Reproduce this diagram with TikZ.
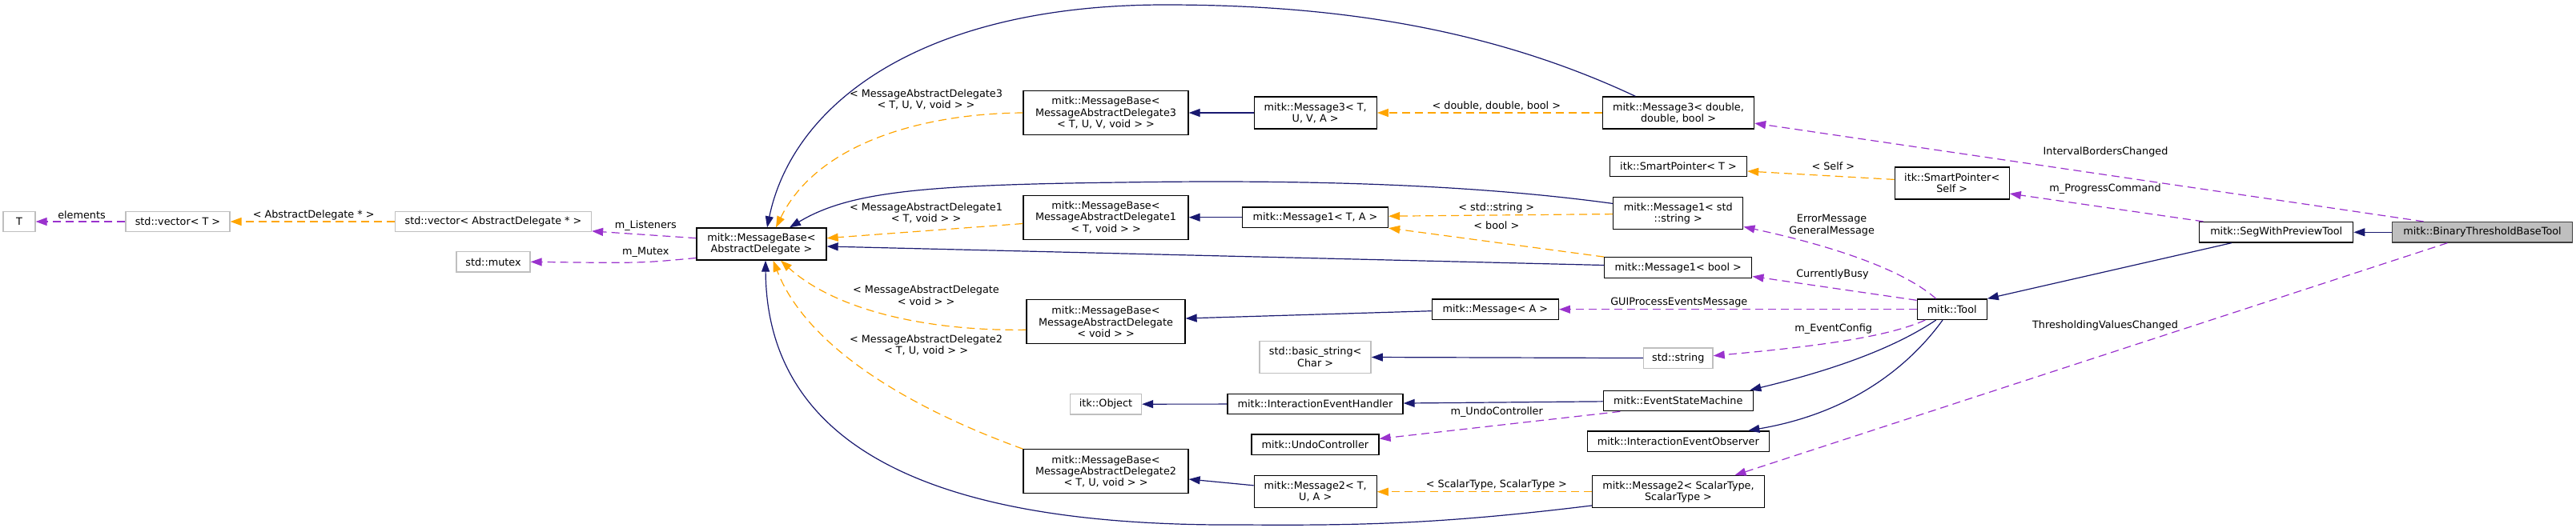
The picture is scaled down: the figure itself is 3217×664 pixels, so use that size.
\documentclass[tikz,border=0pt]{standalone}
\usepackage{fontspec}
\setmainfont{DejaVu Sans}
\usepackage{xcolor}
\usetikzlibrary{arrows.meta,calc}
\definecolor{edgeblue}{HTML}{191970}
\definecolor{edgepurple}{HTML}{9A32CD}
\definecolor{edgeorange}{HTML}{FFA500}
\definecolor{boxgrey}{HTML}{BFBFBF}
\definecolor{focusgrey}{HTML}{404040}

\begin{document}
\begin{tikzpicture}[
  x=1pt, y=-1pt,
  font=\fontsize{12.8}{14.2}\selectfont,
  cls/.style={draw, line width=1.3pt, fill=white, inner sep=0pt,
              align=center, minimum height=25.5pt},
  ext/.style={cls, draw=boxgrey},
  focus/.style={cls, fill=boxgrey, draw=focusgrey},
  tall2/.style={minimum height=40pt},
  tall3/.style={minimum height=55pt},
  inh/.style={->, edgeblue, line width=1.2pt},
  memb/.style={->, edgepurple, line width=1.2pt, dash pattern=on 10pt off 6pt},
  tmpl/.style={->, edgeorange, line width=1.2pt, dash pattern=on 10pt off 6pt},
  lbl/.style={inner sep=0pt, align=center},
  >={Triangle[length=14pt, width=10pt]}
]
\fill[white] (0,0) rectangle (3217,664);
\useasboundingbox (0,0) rectangle (3217,664);

%% --- std / itk helpers (grey) ---
\node[ext, minimum width=40pt] (T) at (24,277) {T};
\node[ext, minimum width=130pt] (vecT) at (222,277) {std::vector< T >};
\node[ext, minimum width=245pt] (vecAD) at (616,277) {std::vector< AbstractDelegate * >};
\node[ext, minimum width=92pt] (mutex) at (616,327.3) {std::mutex};

%% --- MessageBase column ---
\node[cls, tall2, minimum width=162pt] (mbAD) at (951,305)
  {mitk::MessageBase<\\AbstractDelegate >};
\node[cls, tall3, minimum width=206pt] (mb3) at (1381,141)
  {mitk::MessageBase<\\MessageAbstractDelegate3\\< T, U, V, void > >};
\node[cls, tall3, minimum width=206pt] (mb1) at (1381,271.7)
  {mitk::MessageBase<\\MessageAbstractDelegate1\\< T, void > >};
\node[cls, tall3, minimum width=198pt] (mbv) at (1381,402.3)
  {mitk::MessageBase<\\MessageAbstractDelegate\\< void > >};
\node[ext, minimum width=89pt] (itkobj) at (1381,505.2) {itk::Object};
\node[cls, tall3, minimum width=206pt] (mb2) at (1381,589.3)
  {mitk::MessageBase<\\MessageAbstractDelegate2\\< T, U, void > >};

%% --- generic messages ---
\node[cls, tall2, minimum width=153pt] (msg3) at (1642.7,141) {mitk::Message3< T,\\U, V, A >};
\node[cls, minimum width=182pt] (msg1) at (1642.5,271.7) {mitk::Message1< T, A >};
\node[cls, minimum width=158pt] (msg) at (1867.3,386.7) {mitk::Message< A >};
\node[ext, tall2, minimum width=139pt] (bstr) at (1642.6,446.3) {std::basic\_string<\\Char >};
\node[cls, minimum width=219pt] (ieh) at (1642.5,505) {mitk::InteractionEventHandler};
\node[cls, minimum width=159pt] (undo) at (1642.4,555.8) {mitk::UndoController};
\node[cls, tall2, minimum width=153pt] (msg2) at (1642.7,614.7) {mitk::Message2< T,\\U, A >};

%% --- concrete messages and members ---
\node[cls, tall2, minimum width=189pt] (msg3d) at (2096,141) {mitk::Message3< double,\\double, bool >};
\node[cls, minimum width=171pt] (spT) at (2096,208) {itk::SmartPointer< T >};
\node[cls, tall2, minimum width=162pt] (msg1s) at (2095.8,266.6) {mitk::Message1< std\\::string >};
\node[cls, minimum width=184pt] (msg1b) at (2095.8,334.5) {mitk::Message1< bool >};
\node[ext, minimum width=86.5pt] (str) at (2095.8,447.7) {std::string};
\node[cls, minimum width=187pt] (esm) at (2095.8,501) {mitk::EventStateMachine};
\node[cls, minimum width=227pt] (ieo) at (2095.8,551.6) {mitk::InteractionEventObserver};
\node[cls, tall2, minimum width=215pt] (msg2s) at (2096,614.7) {mitk::Message2< ScalarType,\\ScalarType >};

%% --- tools ---
\node[cls, tall2, minimum width=143pt] (spSelf) at (2437.7,229) {itk::SmartPointer<\\Self >};
\node[cls, minimum width=87pt] (tool) at (2437.7,386.7) {mitk::Tool};
\node[cls, minimum width=192pt] (swpt) at (2842.7,290.3) {mitk::SegWithPreviewTool};
\node[focus, minimum width=225pt] (btbt) at (3100,290.3) {mitk::BinaryThresholdBaseTool};

%% --- left chain ---
\draw[memb] (vecT) -- (T);
\draw[tmpl] (vecAD) -- (vecT);
\draw[memb] ($(mbAD.west)+(0,-7.3)$) -- ($(vecAD.south east)+(0,-1.5)$);
\draw[memb] ($(mbAD.south west)+(0,-3.2)$) .. controls (800,329) .. (mutex.east);

%% --- MessageBase templates ---
\draw[tmpl] (mb3.west) .. controls (1150,142) and (1020,180) .. ($(mbAD.north)+(18,0)$);
\draw[tmpl] ($(mb1.west)+(0,7.8)$) -- ($(mbAD.east)+(0,-7.3)$);
\draw[tmpl] ($(mbv.west)+(0,10)$) .. controls (1150,414) and (1040,385) .. ($(mbAD.south)+(24,0)$);
\draw[tmpl] (mb2.north west) .. controls (1150,515) and (1010,440) .. ($(mbAD.south)+(14.5,0)$);

%% --- long links back to MessageBase< AbstractDelegate > ---
\draw[inh] ($(msg3d.north west)+(41.5,0)$) .. controls (1850,30) and (1650,6) .. (1455,6)
  .. controls (1150,6) and (990,130) .. ($(mbAD.north)+(7,0)$);
\draw[inh] ($(msg1s.north west)+(0,8.5)$) .. controls (1850,232) and (1650,224) .. (1400,228)
  .. controls (1150,231) and (1060,240) .. ($(mbAD.north)+(35,0)$);
\draw[inh] ($(msg1b.west)+(0,-3)$) -- ($(mbAD.east)+(0,3)$);
\draw[inh] ($(msg2s.south west)+(0,-3.4)$) .. controls (1800,655) and (1700,657) .. (1550,656)
  .. controls (1250,658) and (958,600) .. ($(mbAD.south)+(5,0)$);

%% --- message chains ---
\draw[inh] (msg3) -- (mb3);
\draw[tmpl] (msg3d) -- (msg3);
\draw[inh] (msg1) -- (mb1);
\draw[tmpl] ($(msg1s.west)+(0,1)$) -- ($(msg1.east)+(0,-1.5)$);
\draw[tmpl] (msg1b.north west) -- (msg1.south east);
\draw[inh] ($(msg.west)+(0,2)$) -- ($(mbv.east)+(0,-4.3)$);
\draw[inh] ($(msg2.west)+(0,-7.9)$) -- ($(mb2.east)+(0,9.7)$);
\draw[tmpl] (msg2s) -- (msg2);
\draw[inh] (str) -- (bstr);
\draw[inh] (ieh) -- (itkobj);
\draw[inh] (esm) -- (ieh);
\draw[memb] ($(esm.south west)+(21.6,0)$) -- ($(undo.east)+(0,-7.4)$);

%% --- mitk::Tool ---
\draw[memb] (tool) -- (msg);
\draw[memb] ($(tool.north)+(-20,0)$) .. controls (2380,340) and (2300,310) .. ($(msg1s.south east)+(0,-3.8)$);
\draw[memb] ($(tool.north west)+(0,2)$) -- ($(msg1b.east)+(0,11)$);
\draw[memb] ($(tool.south west)+(10.7,0)$) .. controls (2360,420) and (2280,432) .. ($(str.east)+(0,-3)$);
\draw[inh] ($(tool.south)+(-20,0)$) .. controls (2370,432) and (2300,460) .. ($(esm.north east)+(-4.6,0)$);
\draw[inh] ($(tool.south)+(-11.7,0)$) .. controls (2390,450) and (2320,515) .. ($(ieo.north east)+(-26.6,0)$);

%% --- right side ---
\draw[inh] ($(swpt.south west)+(40.7,0)$) -- (tool.north east);
\draw[tmpl] ($(spSelf.west)+(0,-4.6)$) -- ($(spT.east)+(0,6)$);
\draw[memb] ($(swpt.north west)+(5.5,0)$) -- ($(spSelf.south east)+(0,-7.6)$);
\draw[inh] (btbt) -- (swpt);
\draw[memb] ($(btbt.north west)+(39.8,0)$) -- ($(msg3d.south east)+(0,-7.6)$);
\draw[memb] ($(btbt.south west)+(69.5,0)$) -- ($(msg2s.north east)+(-37.7,0)$);

%% --- edge labels ---
\node[lbl] (lElem) at (102,268.5) {elements};
\node[lbl] (lVecAD) at (391.7,268.5) {< AbstractDelegate * >};
\node[lbl] (lListen) at (806.3,282.5) {m\_Listeners};
\node[lbl] (lMutex) at (806.3,315.5) {m\_Mutex};
\node[lbl] (lMb3) at (1156.5,124) {< MessageAbstractDelegate3\\< T, U, V, void > >};
\node[lbl] (lMb1) at (1156.5,266.5) {< MessageAbstractDelegate1\\< T, void > >};
\node[lbl] (lMbv) at (1156.5,369.3) {< MessageAbstractDelegate\\< void > >};
\node[lbl] (lMb2) at (1156.5,431) {< MessageAbstractDelegate2\\< T, U, void > >};
\node[lbl] (lDbl) at (1868.8,132.5) {< double, double, bool >};
\node[lbl] (lStr) at (1868.8,260.4) {< std::string >};
\node[lbl] (lBool) at (1868.8,282) {< bool >};
\node[lbl] (lUndo) at (1869.2,515.4) {m\_UndoController};
\node[lbl] (lScalar) at (1868.8,606.4) {< ScalarType, ScalarType >};
\node[lbl] (lSelf) at (2289.3,208) {< Self >};
\node[lbl] (lErr) at (2287.6,281.6) {ErrorMessage\\GeneralMessage};
\node[lbl] (lBusy) at (2288.4,343.4) {CurrentlyBusy};
\node[lbl] (lGui) at (2096.8,378.2) {GUIProcessEventsMessage};
\node[lbl] (lCfg) at (2289.7,411.2) {m\_EventConfig};
\node[lbl] (lIbc) at (2629.5,190) {IntervalBordersChanged};
\node[lbl] (lProg) at (2629,236.3) {m\_ProgressCommand};
\node[lbl] (lTvc) at (2629,406.5) {ThresholdingValuesChanged};
\end{tikzpicture}
\end{document}
